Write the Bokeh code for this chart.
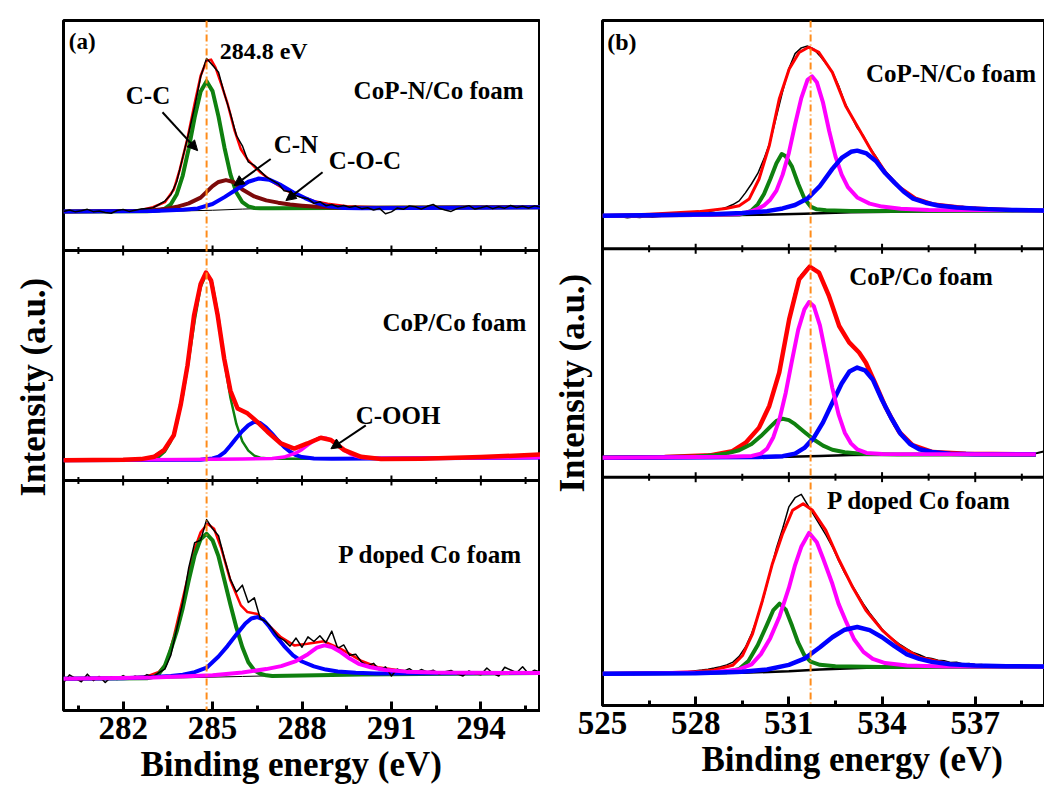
import numpy as np
from bokeh.plotting import figure
from bokeh.layouts import row
from bokeh.models import Range1d, FixedTicker, Span, Arrow, NormalHead, Title
from bokeh.core.properties import value
from bokeh.embed import file_html
from bokeh.resources import INLINE

FONT = "Liberation Serif"
RED, GREEN, BLUE, MAGENTA, BROWN, BLACK, ORANGE = (
    "#ff0000", "#0f800f", "#0000ff", "#ff00ff", "#7d0a0a", "#000000", "#ff8c1a")

# ---------------- panel (a): C 1s ----------------
A_XLIM = (280.0, 296.0)
A_TICKS = [282, 285, 288, 291, 294]
A_MINOR = [280.5, 283.5, 286.5, 289.5, 292.5, 295.5]
A_REF = 284.8
RAW_STEP = 0.2

# a1  CoP-N/Co foam  (intensity in % of sub-panel height)
a1_raw_v = [17.0, 17.6, 16.8, 17.3, 17.9, 16.9, 17.2, 16.5, 16.2, 17.4, 17.8, 17.0, 17.5, 18.0, 18.3, 18.6,
            20.0, 21.5, 24.2, 30.0, 40.5, 51.0, 62.5, 75.5, 83.5, 80.5, 77.5, 68.0, 59.5, 50.0, 45.5,
            38.5, 37.0, 34.5, 32.0, 30.5, 29.0, 26.0, 25.5, 23.8, 23.0, 22.5, 20.5, 21.2, 19.5, 20.0,
            19.0, 19.6, 18.8, 19.3, 18.2, 18.6, 17.6, 18.3, 16.0, 16.8, 18.5, 17.9, 19.4, 19.0, 18.0,
            19.2, 20.0, 18.4, 17.6, 17.0, 18.2, 18.8, 19.5, 18.0, 18.6, 19.3, 18.2, 19.0, 18.4, 19.6,
            18.7, 19.2, 18.5, 19.4, 18.9]
a1_bg_e = [280, 284, 285, 286, 287, 288, 290, 296]
a1_bg_v = [17.0, 17.2, 17.5, 18.0, 18.4, 18.6, 18.8, 18.8]
a1_red_e = [280, 282.0, 282.6, 283.0, 283.4, 283.7, 283.9, 284.15, 284.4, 284.6, 284.8, 284.95, 285.1, 285.3,
            285.5, 285.73, 285.95, 286.17, 286.4, 286.62, 287.07, 287.52, 287.96, 288.41, 288.86, 289.5, 290.5, 296]
a1_red_v = [17.1, 17.2, 17.6, 18.8, 21.0, 26.5, 35.2, 48.3, 64.0, 76.0, 82.5, 83.0, 79.5, 72.0,
            64.0, 52.5, 44.0, 39.6, 36.5, 33.8, 29.4, 25.8, 23.6, 21.4, 20.3, 19.2, 18.8, 18.8]
a1_cc_e = [280, 282.8, 283.0, 283.2, 283.4, 283.6, 283.8, 284.0, 284.2, 284.4, 284.6, 284.8, 285.0, 285.2,
           285.4, 285.6, 285.8, 286.0, 286.2, 286.4, 286.6, 287.0, 296]
a1_cc_v = [17.0, 17.1, 17.2, 17.4, 18.2, 20.1, 24.5, 32.6, 44.3, 57.9, 69.1, 73.6, 69.3, 58.2,
           44.7, 33.1, 25.2, 21.0, 19.2, 18.5, 18.4, 18.4, 18.8]
a1_cn_e = [280, 282.6, 283.0, 283.4, 283.8, 284.2, 284.6, 285.0, 285.2, 285.45, 285.7, 286.0, 286.4, 286.8,
           287.2, 287.6, 288.0, 288.5, 289.0, 290.0, 296]
a1_cn_v = [17.0, 17.3, 17.5, 18.0, 19.0, 20.5, 23.0, 28.0, 29.8, 30.6, 29.8, 26.5, 23.5, 21.8,
           20.8, 20.0, 19.5, 19.0, 18.7, 18.6, 18.8]
a1_coc_e = [280, 283.0, 284.0, 284.5, 285.0, 285.4, 285.8, 286.2, 286.55, 286.9, 287.3, 287.7, 288.1, 288.5,
            288.9, 289.4, 290.0, 296]
a1_coc_v = [17.0, 17.2, 17.7, 18.3, 20.2, 23.2, 26.5, 29.9, 31.3, 30.8, 28.4, 25.3, 22.8, 20.6,
            19.2, 18.5, 18.4, 18.8]

# a2  CoP/Co foam
a2_raw_e = [280, 281, 282, 282.6, 283.0, 283.4, 283.7, 284.0, 284.3, 284.6, 284.8, 285.0, 285.3, 285.6, 285.9,
            286.2, 286.5, 286.9, 287.3, 287.7, 288.2, 288.6, 289.0, 289.4, 290.0, 290.6, 291.5, 292.5, 293.5,
            294.5, 295.5, 296]
a2_raw_v = [8.5, 9.2, 8.9, 9.6, 10.6, 13.8, 20.0, 39.0, 63.5, 85.0, 90.0, 86.0, 61.0, 38.0, 30.5,
            28.8, 25.8, 20.8, 16.4, 14.2, 16.5, 18.9, 17.3, 13.5, 10.5, 9.8, 9.7, 9.3, 10.1,
            10.6, 10.9, 11.5]
a2_bg_e = [280, 284, 286, 288, 290, 296]
a2_bg_v = [8.8, 9.0, 9.2, 9.4, 9.6, 10.0]
a2_red_e = [280, 282.0, 282.6, 283.04, 283.37, 283.7, 283.93, 284.16, 284.38, 284.6, 284.78, 284.95, 285.17,
            285.39, 285.6, 285.84, 286.17, 286.5, 286.84, 287.29, 287.74, 288.18, 288.63, 288.97, 289.42,
            289.98, 290.65, 292, 294, 296]
a2_red_v = [8.8, 9.0, 9.3, 10.3, 13.2, 19.7, 32.8, 50.1, 71.9, 85.5, 90.4, 87.0, 71.9,
            53.0, 39.0, 31.3, 29.2, 25.5, 21.2, 16.1, 13.9, 16.1, 18.6, 17.6, 13.2,
            10.3, 9.3, 9.5, 10.2, 11.3]
a2_cc_e = [280, 282.8, 283.0, 283.2, 283.4, 283.6, 283.8, 284.0, 284.2, 284.4, 284.6, 284.8, 285.0, 285.2,
           285.4, 285.6, 285.8, 286.0, 286.2, 286.4, 286.6, 287.0, 290, 296]
a2_cc_v = [8.8, 9.2, 9.5, 10.2, 12.5, 16.8, 24.5, 36.5, 52.0, 69.5, 84.0, 90.0, 85.0, 71.0,
           51.5, 36.0, 24.5, 17.0, 13.0, 10.8, 9.9, 9.5, 9.6, 10.0]
a2_co_e = [280, 284.6, 285.0, 285.2, 285.4, 285.6, 285.8, 286.0, 286.2, 286.4, 286.6, 286.8, 287.0, 287.2,
           287.4, 287.6, 287.8, 288.0, 288.4, 289.0, 296]
a2_co_v = [8.8, 9.0, 9.6, 10.4, 12.2, 15.2, 18.5, 21.5, 24.0, 25.5, 25.0, 23.0, 20.3, 17.3,
           14.6, 12.5, 11.0, 10.2, 9.6, 9.5, 10.0]
a2_cooh_e = [280, 284, 286, 287.0, 287.4, 287.8, 288.0, 288.2, 288.4, 288.6, 288.8, 289.0, 289.2, 289.4,
             289.6, 289.8, 290.0, 290.4, 291, 296]
a2_cooh_v = [8.8, 9.1, 9.4, 9.6, 10.2, 12.0, 13.5, 15.5, 17.3, 18.4, 18.4, 17.3, 15.4, 13.3,
             11.7, 10.6, 10.0, 9.7, 9.7, 10.0]

# a3  P doped Co foam
a3_raw_v = [12.0, 15.5, 14.0, 12.5, 15.8, 13.0, 14.8, 12.2, 14.6, 13.5, 15.2, 13.8, 14.9, 14.0, 15.6, 14.6,
            16.5, 18.0, 24.0, 35.5, 47.0, 62.0, 73.0, 74.0, 83.0, 79.0, 76.0, 66.0, 57.0, 51.5, 54.5,
            47.0, 49.0, 40.0, 38.5, 35.5, 32.0, 30.5, 28.0, 31.5, 27.5, 32.0, 30.0, 32.5, 29.5, 34.5,
            27.0, 28.5, 24.0, 24.5, 21.0, 19.5, 20.5, 17.5, 19.0, 15.0, 18.0, 17.0, 18.2, 16.5, 17.8,
            16.8, 17.5, 15.8, 16.9, 17.4, 16.0, 15.0, 17.2, 16.0, 15.5, 18.5, 16.2, 15.0, 18.8, 17.6,
            16.4, 19.0, 16.0, 17.5, 16.6]
a3_bg_e = [280, 284, 286, 288, 290, 296]
a3_bg_v = [13.8, 14.2, 14.8, 15.4, 15.8, 16.3]
a3_red_e = [280, 282.0, 282.8, 283.2, 283.45, 283.7, 284.04, 284.38, 284.6, 284.83, 285.05, 285.28, 285.6,
            285.95, 286.17, 286.5, 286.84, 287.29, 287.74, 288.18, 288.74, 289.3, 289.98, 290.54, 291.65, 293, 296]
a3_red_v = [13.8, 14.2, 14.8, 16.8, 20.5, 32.0, 50.7, 69.6, 77.5, 81.2, 79.0, 71.0, 56.5,
            45.7, 42.8, 42.0, 37.7, 31.9, 28.3, 29.0, 30.1, 26.8, 21.7, 18.8, 16.7, 16.4, 16.4]
a3_cc_e = [280, 282.8, 283.0, 283.2, 283.4, 283.6, 283.8, 284.0, 284.2, 284.4, 284.6, 284.8, 285.0, 285.2,
           285.4, 285.6, 285.8, 286.0, 286.2, 286.4, 286.6, 286.8, 287.0, 290, 296]
a3_cc_v = [13.8, 14.0, 14.5, 16.0, 19.5, 26.5, 34.5, 44.5, 56.5, 67.5, 74.5, 76.8, 74.0, 67.0,
           56.5, 46.0, 36.0, 27.5, 21.0, 17.5, 16.0, 15.3, 15.0, 15.6, 16.3]
a3_co_e = [280, 282.0, 283.0, 283.6, 284.0, 284.4, 284.8, 285.2, 285.5, 285.8, 286.1, 286.3, 286.5, 286.7,
           286.9, 287.1, 287.4, 287.7, 288.0, 288.4, 288.8, 289.2, 289.8, 290.5, 296]
a3_co_v = [13.8, 14.0, 14.6, 15.0, 15.6, 16.7, 18.6, 23.5, 28.0, 33.0, 37.8, 40.0, 40.6, 39.6,
           36.5, 32.8, 28.0, 24.0, 21.3, 19.2, 17.8, 17.0, 16.4, 16.1, 16.3]
a3_cooh_e = [280, 283, 285, 286, 286.8, 287.3, 287.8, 288.2, 288.5, 288.75, 289.0, 289.3, 289.6, 289.9,
             290.3, 290.8, 291.5, 292.5, 296]
a3_cooh_v = [13.8, 14.3, 15.3, 16.5, 18.0, 19.3, 21.5, 24.5, 27.3, 28.3, 27.6, 25.4, 22.6, 20.3,
             18.8, 17.6, 16.9, 16.5, 16.3]

# ---------------- panel (b): O 1s ----------------
B_XLIM = (525.0, 539.23)
B_TICKS = [525, 528, 531, 534, 537]
B_MINOR = [526.5, 529.5, 532.5, 535.5, 538.5]
B_REF = 531.7

b1_raw_v = [14.2, 14.0, 13.8, 14.1, 13.6, 13.9, 13.7, 14.0, 13.8, 14.2,
            14.4, 14.3, 14.6, 14.9, 15.2, 15.6, 15.9, 16.3, 16.8, 17.4,
            18.2, 19.4, 21.0, 24.5, 28.5, 33.0, 39.5, 47.0, 58.0, 69.0,
            79.0, 85.5, 88.0, 88.8, 87.5, 84.5, 81.0, 77.5, 71.5, 64.0,
            58.5, 53.0, 49.5, 44.5, 40.5, 36.0, 32.5, 29.5, 26.5, 24.5,
            22.8, 21.5, 20.8, 19.8, 19.6, 18.8, 18.9, 18.2, 18.5, 17.8,
            18.1, 17.5, 17.9, 17.3, 17.6, 17.1, 17.4, 16.9, 17.1, 16.8,
            16.9, 16.7]
b1_bg_e = [525, 528, 530, 531.5, 533, 535, 539.23]
b1_bg_v = [14.3, 14.6, 14.9, 15.4, 16.0, 16.4, 16.7]
b1_red_e = [525, 526.5, 528.1, 528.97, 529.4, 529.72, 530.04, 530.37, 530.69, 531.01, 531.33, 531.63, 531.97,
            532.4, 532.83, 533.26, 533.69, 534.12, 534.55, 535.09, 535.63, 536.7, 537.77, 539.23]
b1_red_v = [14.5, 15.2, 16.3, 17.7, 18.9, 21.8, 30.6, 45.2, 65.6, 78.8, 86.0, 88.3, 86.0,
            77.3, 62.6, 52.4, 42.2, 33.4, 27.2, 22.2, 19.8, 18.1, 17.4, 16.7]
b1_g_e = [525, 528, 529.4, 529.6, 529.8, 530.0, 530.2, 530.4, 530.6, 530.77, 530.9, 531.1, 531.3, 531.5,
          531.7, 531.9, 532.2, 533, 539.23]
b1_g_v = [14.5, 14.8, 15.0, 15.6, 16.8, 19.5, 24.0, 30.5, 37.5, 41.5, 40.5, 36.0, 28.5, 22.0,
          18.5, 17.3, 16.9, 16.6, 16.7]
b1_m_e = [525, 528, 529.4, 529.8, 530.0, 530.2, 530.4, 530.6, 530.8, 531.0, 531.2, 531.4, 531.6, 531.75,
          531.9, 532.1, 532.3, 532.5, 532.7, 532.9, 533.2, 533.6, 534.0, 534.6, 535.5, 539.23]
b1_m_v = [14.5, 14.8, 15.2, 16.5, 17.5, 19.0, 21.5, 25.5, 32.5, 42.0, 54.5, 66.0, 74.0, 75.5,
          73.0, 64.0, 51.5, 40.5, 32.5, 27.0, 22.5, 19.8, 18.5, 17.6, 17.0, 16.8]
b1_b_e = [525, 527, 528.5, 529.5, 530.3, 530.8, 531.2, 531.6, 532.0, 532.4, 532.7, 533.0, 533.2, 533.5,
          533.8, 534.1, 534.4, 534.7, 535.0, 535.4, 535.8, 536.4, 537.2, 538.2, 539.23]
b1_b_v = [14.5, 14.8, 15.2, 15.7, 16.5, 17.7, 19.2, 22.0, 27.5, 35.0, 39.8, 42.5, 43.0, 41.8,
          38.5, 33.2, 29.0, 25.0, 22.0, 20.2, 19.0, 18.1, 17.5, 17.0, 16.8]

b2_raw_v = [8.4, 8.5, 8.3, 8.6, 8.4, 8.5, 8.6, 8.5, 8.7, 8.6,
            8.8, 8.9, 9.0, 9.1, 9.3, 9.4, 9.6, 9.8, 10.1, 10.6,
            11.0, 11.7, 13.0, 15.0, 18.0, 21.0, 26.0, 32.5, 41.0, 53.0,
            68.5, 81.0, 88.5, 91.8, 91.5, 89.0, 82.0, 74.5, 66.5, 61.5,
            58.0, 55.5, 51.5, 46.5, 40.0, 33.5, 27.5, 22.5, 18.8, 15.8,
            13.7, 12.5, 11.6, 11.1, 10.8, 10.6, 10.4, 10.5, 10.3, 10.4,
            10.2, 10.3, 10.1, 10.2, 10.0, 10.1, 10.0, 10.1, 10.0, 10.2,
            10.6, 11.2]
b2_bg_e = [525, 529, 531, 532, 533, 535, 538.95]
b2_bg_v = [8.3, 8.5, 8.9, 9.3, 9.7, 9.9, 10.0]
b2_red_e = [525, 527, 528.5, 529.18, 529.61, 530.04, 530.37, 530.69, 531.01, 531.33, 531.67, 531.97, 532.29,
            532.62, 532.94, 533.26, 533.48, 533.8, 534.12, 534.55, 534.98, 535.63, 536.7, 538.95]
b2_red_v = [8.5, 8.8, 9.6, 11.4, 15.1, 21.7, 31.2, 45.8, 69.1, 86.6, 92.2, 89.6, 79.4,
            66.2, 59.0, 54.6, 50.1, 40.5, 30.5, 19.8, 14.0, 11.0, 10.3, 10.0]
b2_g_e = [525, 527, 528, 528.6, 529.0, 529.4, 529.8, 530.1, 530.4, 530.6, 530.8, 531.0, 531.2, 531.5,
          531.8, 532.1, 532.4, 532.8, 533.4, 534.5, 538.95]
b2_g_v = [8.5, 8.8, 9.1, 9.6, 10.4, 11.8, 14.5, 18.0, 22.0, 24.6, 25.6, 25.0, 23.2, 19.8,
          16.5, 13.8, 12.0, 10.9, 10.2, 9.9, 9.9]
b2_m_e = [525, 529.0, 529.8, 530.1, 530.3, 530.5, 530.7, 530.9, 531.1, 531.3, 531.5, 531.65, 531.8, 532.0,
          532.2, 532.4, 532.6, 532.8, 533.0, 533.2, 533.5, 534.0, 538.95]
b2_m_v = [8.5, 8.9, 9.3, 10.3, 12.5, 17.5, 25.5, 37.0, 51.0, 64.5, 73.5, 76.7, 75.0, 66.5,
          53.0, 39.0, 27.5, 19.5, 14.8, 12.2, 10.6, 10.1, 10.0]
b2_b_e = [525, 530, 530.8, 531.2, 531.5, 531.8, 532.1, 532.4, 532.7, 532.95, 533.2, 533.45, 533.7, 534.0,
          534.3, 534.6, 534.9, 535.2, 535.6, 536.2, 537, 538.95]
b2_b_v = [8.5, 8.8, 9.2, 10.3, 12.8, 17.2, 24.0, 32.6, 41.0, 46.3, 48.0, 46.8, 42.8, 33.8,
          25.8, 18.9, 14.5, 12.2, 11.0, 10.3, 10.0, 10.0]

b3_raw_v = [13.8, 13.6, 13.7, 13.5, 13.8, 13.6, 13.9, 13.7, 14.0, 14.1,
            14.3, 14.2, 14.5, 14.6, 14.9, 15.2, 15.5, 15.9, 16.4, 17.0,
            17.8, 19.0, 21.5, 25.5, 31.5, 39.0, 48.0, 58.5, 69.0, 77.5,
            87.0, 91.0, 92.5, 88.0, 83.5, 79.0, 74.5, 69.5, 63.5, 58.0,
            53.5, 49.0, 44.5, 40.5, 37.0, 33.5, 30.5, 28.5, 26.5, 24.8,
            23.2, 22.2, 21.0, 20.6, 19.8, 19.6, 18.8, 18.9, 18.2, 18.4,
            17.8, 18.0, 17.5, 17.7, 17.3, 17.4, 17.2, 17.3, 17.0, 17.2,
            17.0, 17.1]
b3_bg_e = [525, 529.5, 531, 532, 533.5, 535, 539.23]
b3_bg_v = [13.8, 14.3, 15.0, 15.8, 16.5, 16.9, 17.1]
b3_red_e = [525, 527, 528.0, 528.6, 529.19, 529.51, 529.83, 530.15, 530.47, 530.8, 531.12, 531.46, 531.76,
            532.19, 532.62, 533.05, 533.48, 534.01, 534.55, 535.19, 536.16, 537.2, 539.23]
b3_red_v = [13.9, 14.3, 14.8, 15.6, 17.6, 21.9, 31.4, 46.0, 62.1, 75.3, 85.5, 88.4, 85.5,
            76.7, 63.6, 51.9, 41.7, 32.9, 26.3, 21.2, 18.3, 17.4, 17.1]
b3_g_e = [525, 528, 529.0, 529.4, 529.7, 530.0, 530.3, 530.5, 530.7, 530.9, 531.1, 531.3, 531.5, 531.7,
          532.0, 532.5, 534, 539.23]
b3_g_v = [13.9, 14.2, 14.6, 16.0, 19.5, 26.5, 35.5, 41.8, 44.6, 42.0, 35.0, 27.5, 22.0, 19.2,
          17.8, 17.2, 16.9, 17.0]
b3_m_e = [525, 528.5, 529.4, 529.8, 530.1, 530.4, 530.7, 531.0, 531.2, 531.4, 531.65, 531.9, 532.1, 532.4,
          532.6, 532.85, 533.1, 533.4, 533.7, 534.1, 534.8, 536, 539.23]
b3_m_v = [13.9, 14.5, 15.8, 18.0, 22.5, 29.5, 39.0, 51.5, 61.5, 69.5, 75.6, 71.5, 64.5, 53.3,
          44.5, 36.5, 29.0, 23.5, 20.4, 18.6, 17.5, 17.1, 17.0]
b3_b_e = [525, 528, 529.5, 530.3, 531.0, 531.5, 532.0, 532.4, 532.8, 533.2, 533.6, 534.0, 534.4, 534.8,
          535.2, 535.6, 536.2, 537, 538, 539.23]
b3_b_v = [13.9, 14.1, 14.8, 15.8, 17.8, 20.5, 25.5, 29.9, 33.2, 34.4, 33.0, 29.9, 26.0, 22.4,
          20.4, 19.1, 18.1, 17.5, 17.2, 17.1]

SAMPLES = ["CoP-N/Co foam", "CoP/Co foam", "P doped Co foam"]
OFFSETS = [200, 100, 0]   # top, middle, bottom sub-panel


def raw_x(start, vals):
    return start + RAW_STEP * np.arange(len(vals))


def make_panel(xlim, ticks, minor, ref, frame_w, frame_h, bl, bt, bb, br, xlab_off, ylab_off, ylab_stand):
    p = figure(x_range=Range1d(*xlim), y_range=Range1d(0, 300),
               frame_width=frame_w, frame_height=frame_h,
               min_border_left=bl, min_border_top=bt, min_border_bottom=bb, min_border_right=br,
               output_backend="svg", toolbar_location=None)
    p.xgrid.visible = False
    p.ygrid.visible = False
    p.outline_line_color = "black"
    p.outline_line_width = 3
    p.outline_line_alpha = 1.0
    xa = p.xaxis[0]
    xa.ticker = FixedTicker(ticks=ticks, minor_ticks=minor)
    xa.axis_line_width = 3
    xa.major_tick_in = 9
    xa.major_tick_out = 0
    xa.minor_tick_in = 5
    xa.minor_tick_out = 0
    xa.major_tick_line_width = 3
    xa.minor_tick_line_width = 3
    xa.major_label_text_font = FONT
    xa.major_label_text_font_size = "33px"
    xa.major_label_text_font_style = "bold"
    xa.major_label_text_color = "black"
    xa.major_label_standoff = 6
    p.yaxis.visible = False
    p.add_layout(Title(text="Binding energy (eV)", align="left", offset=xlab_off, standoff=3,
                       text_font=FONT, text_font_size="35px", text_font_style="bold",
                       text_color="black"), "below")
    p.add_layout(Title(text="Intensity (a.u.)", align="left", offset=ylab_off, standoff=ylab_stand,
                       text_font=FONT, text_font_size="35px", text_font_style="bold",
                       text_color="black"), "left")
    # sub-panel separators with small inward ticks on both sides
    for s in (100, 200):
        p.add_layout(Span(location=s, dimension="width", line_color="black", line_width=3))
    upp = 300.0 / frame_h
    x0, y0, x1, y1 = [], [], [], []
    for s in (100, 200):
        for t in ticks:
            x0.append(t); x1.append(t); y0.append(s - 5 * upp); y1.append(s + 5 * upp)
        for t in minor:
            x0.append(t); x1.append(t); y0.append(s - 3.5 * upp); y1.append(s + 3.5 * upp)
    p.segment(x0=x0, y0=y0, x1=x1, y1=y1, line_color="black", line_width=2)
    p.add_layout(Span(location=ref, dimension="height", line_color=ORANGE, line_width=2,
                      line_dash="7 3 1 3"))
    return p


def draw(p, offset, curves):
    for e, v, color, width in curves:
        p.line(np.asarray(e, dtype=float), np.asarray(v, dtype=float) + offset,
               line_color=color, line_width=width, line_join="round")


def labels(p, xs, ys, texts, size):
    p.text(x=xs, y=ys, text=texts, text_font=value(FONT), text_font_style="bold",
           text_font_size=size, text_color="black", text_baseline="middle", text_align="left")


# ---------------- build panel (a) ----------------
pa = make_panel(A_XLIM, A_TICKS, A_MINOR, A_REF, 477, 690, 63, 16, 85, 0, 77, 214, 22)

draw(pa, OFFSETS[0], [
    (a1_bg_e, a1_bg_v, BLACK, 1),
    (a1_red_e, a1_red_v, RED, 2.5),
    (a1_cc_e, a1_cc_v, GREEN, 4),
    (a1_cn_e, a1_cn_v, BROWN, 4),
    (a1_coc_e, a1_coc_v, BLUE, 4),
    (raw_x(A_XLIM[0], a1_raw_v), a1_raw_v, BLACK, 1.5),
])
draw(pa, OFFSETS[1], [
    (a2_raw_e, a2_raw_v, BLACK, 1.5),
    (a2_bg_e, a2_bg_v, BLACK, 1.5),
    (a2_cc_e, a2_cc_v, GREEN, 2.5),
    (a2_co_e, a2_co_v, BLUE, 4),
    (a2_cooh_e, a2_cooh_v, MAGENTA, 3.5),
    (a2_red_e, a2_red_v, RED, 4.5),
])
draw(pa, OFFSETS[2], [
    (a3_bg_e, a3_bg_v, BLACK, 1),
    (a3_red_e, a3_red_v, RED, 2.5),
    (a3_cc_e, a3_cc_v, GREEN, 4),
    (a3_co_e, a3_co_v, BLUE, 4),
    (raw_x(A_XLIM[0], a3_raw_v), a3_raw_v, BLACK, 1.5),
    (a3_cooh_e, a3_cooh_v, MAGENTA, 4),
])

labels(pa, [280.18], [290.7], ["(a)"], "23px")
labels(pa, [285.24], [286.9], ["284.8 eV"], "24px")
labels(pa, [289.73, 290.70, 289.22], [269.6, 168.8, 68.0], SAMPLES, "25px")
labels(pa, [282.09, 287.05, 288.90, 289.80], [267.4, 246.3, 239.2, 128.4],
       ["C-C", "C-N", "C-O-C", "C-OOH"], "25px")
for xs, ys, xe, ye in [(283.32, 260.1, 284.50, 243.4), (286.95, 239.8, 285.72, 228.2),
                       (288.69, 234.0, 287.46, 221.7), (290.14, 124.0, 288.97, 113.8)]:
    pa.add_layout(Arrow(end=NormalHead(size=10, fill_color="black", line_color="black"),
                        x_start=xs, y_start=ys, x_end=xe, y_end=ye,
                        line_color="black", line_width=2))

# ---------------- build panel (b) ----------------
pb = make_panel(B_XLIM, B_TICKS, B_MINOR, B_REF, 442, 685, 61, 20, 86, 1, 99, 213, 21)

draw(pb, OFFSETS[0], [
    (raw_x(B_XLIM[0], b1_raw_v), b1_raw_v, BLACK, 1.5),
    (b1_red_e, b1_red_v, RED, 3),
    (b1_bg_e, b1_bg_v, BLACK, 2.5),
    (b1_g_e, b1_g_v, GREEN, 4),
    (b1_m_e, b1_m_v, MAGENTA, 4),
    (b1_b_e, b1_b_v, BLUE, 4.5),
])
draw(pb, OFFSETS[1], [
    (raw_x(B_XLIM[0], b2_raw_v), b2_raw_v, BLACK, 2),
    (b2_red_e, b2_red_v, RED, 4.5),
    (b2_bg_e, b2_bg_v, BLACK, 2.5),
    (b2_g_e, b2_g_v, GREEN, 4),
    (b2_b_e, b2_b_v, BLUE, 4.5),
    (b2_m_e, b2_m_v, MAGENTA, 4),
])
draw(pb, OFFSETS[2], [
    (raw_x(B_XLIM[0], b3_raw_v), b3_raw_v, BLACK, 1.5),
    (b3_red_e, b3_red_v, RED, 3),
    (b3_bg_e, b3_bg_v, BLACK, 2.5),
    (b3_g_e, b3_g_v, GREEN, 4),
    (b3_m_e, b3_m_v, MAGENTA, 4),
    (b3_b_e, b3_b_v, BLUE, 4.5),
])

labels(pb, [525.15], [290.6], ["(b)"], "24px")
labels(pb, [533.48, 532.94, 532.23], [276.7, 188.1, 89.9], SAMPLES, "25px")

layout = row(pa, pb)
open("out.html", "w").write(file_html(layout, INLINE))
